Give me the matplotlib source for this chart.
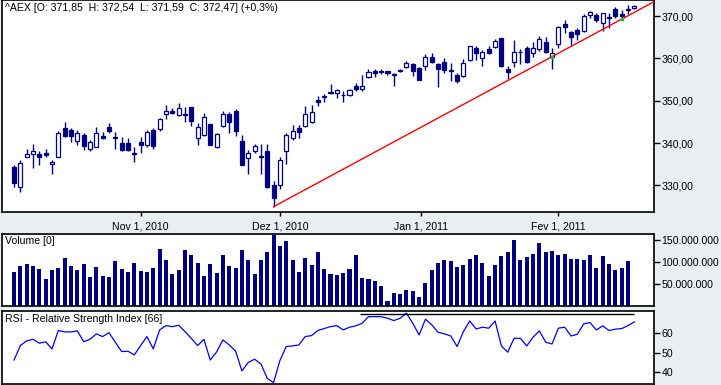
import numpy as np
import pandas as pd
import matplotlib
matplotlib.use("Agg")
import matplotlib.pyplot as plt
from matplotlib.ticker import FuncFormatter

# trading days shown (Oct 4, 2010 .. Feb 17, 2011)
dates = pd.bdate_range("2010-10-04", "2011-02-17")

opens = [334.4, 329.7, 336.8, 337.5, 337.5, 337.6, 335.0, 336.8, 343.5, 343.1,
         340.4, 341.9, 338.5, 339.1, 341.7, 343.7, 341.5, 339.9, 339.9, 337.5,
         340.2, 339.5, 343.1, 343.2, 346.8, 347.6, 346.7, 346.9, 348.4, 341.1,
         341.9, 344.5, 339.1, 344.1, 346.8, 347.6, 340.5, 336.4, 338.0, 337.0,
         338.1, 330.0, 330.0, 338.2, 341.3, 343.6, 344.1, 345.0, 350.2, 351.2,
         352.1, 351.8, 351.3, 351.3, 353.5, 352.7, 355.7, 356.9, 357.1, 356.9,
         356.3, 357.3, 358.0, 358.6, 357.8, 358.3, 360.2, 358.6, 359.1, 357.3,
         356.1, 355.8, 359.6, 362.4, 360.0, 362.1, 362.6, 364.7, 357.6, 359.1,
         361.4, 362.4, 361.2, 362.3, 363.9, 360.4, 363.3, 368.1, 366.2, 366.7,
         366.5, 370.2, 370.2, 368.3, 369.8, 371.6, 370.5, 371.75, 371.85]
highs = [334.8, 336.0, 338.7, 339.8, 338.0, 338.7, 336.1, 342.8, 345.0, 343.5,
         343.1, 342.3, 340.7, 343.9, 342.7, 344.8, 342.7, 341.5, 341.1, 339.1,
         341.5, 343.1, 343.5, 345.8, 349.0, 348.2, 349.4, 348.6, 348.6, 344.8,
         347.0, 344.6, 342.4, 347.6, 347.4, 348.1, 341.9, 338.4, 339.8, 339.7,
         339.7, 331.0, 336.6, 342.3, 344.3, 344.3, 348.7, 349.0, 351.0, 351.6,
         353.9, 352.7, 352.4, 352.7, 354.1, 356.1, 357.4, 357.6, 357.5, 357.1,
         356.6, 357.6, 359.4, 358.8, 358.0, 361.0, 361.3, 358.8, 360.1, 358.8,
         356.5, 359.8, 362.9, 362.8, 362.0, 362.9, 364.5, 364.9, 358.2, 364.3,
         362.1, 362.9, 363.8, 365.3, 365.1, 362.4, 367.6, 369.1, 366.5, 367.1,
         370.4, 371.1, 370.6, 370.8, 370.8, 372.2, 371.4, 372.6, 372.54]
lows = [329.7, 328.5, 336.6, 334.0, 334.7, 336.8, 332.6, 336.7, 341.5, 340.2,
        339.5, 338.4, 338.0, 339.1, 340.9, 342.4, 338.7, 338.1, 338.0, 335.6,
        337.7, 339.1, 338.7, 342.9, 345.6, 346.8, 346.4, 345.0, 344.0, 339.5,
        341.7, 339.5, 338.9, 343.9, 342.4, 341.7, 334.8, 332.7, 337.6, 332.7,
        329.4, 325.0, 329.1, 335.0, 340.7, 341.1, 343.9, 344.8, 348.8, 349.8,
        351.5, 350.6, 349.8, 351.1, 352.4, 352.4, 355.4, 355.7, 356.3, 356.1,
        353.5, 356.7, 357.8, 355.8, 354.9, 357.3, 358.8, 353.2, 356.6, 354.7,
        354.1, 355.7, 359.4, 359.5, 358.3, 361.0, 362.4, 358.0, 355.1, 358.0,
        358.6, 358.8, 360.4, 361.7, 361.3, 357.6, 362.4, 365.9, 363.2, 364.3,
        366.3, 369.5, 368.7, 366.5, 367.1, 369.5, 369.5, 370.5, 371.59]
closes = [330.5, 335.2, 337.4, 338.1, 336.8, 337.2, 335.5, 342.3, 341.7, 341.7,
          342.3, 339.4, 340.2, 342.3, 341.2, 342.9, 341.1, 338.3, 338.4, 337.7,
          339.6, 342.5, 339.4, 345.6, 347.5, 347.2, 348.2, 346.5, 345.3, 343.7,
          346.1, 339.6, 342.1, 346.8, 345.0, 342.9, 334.9, 337.6, 339.3, 336.6,
          329.5, 327.1, 336.1, 341.9, 342.8, 342.7, 346.9, 347.3, 349.8, 350.8,
          351.7, 352.5, 351.4, 352.5, 352.7, 353.5, 356.7, 356.5, 356.7, 356.5,
          356.0, 356.9, 358.8, 357.0, 355.0, 360.2, 359.1, 357.6, 357.3, 356.9,
          354.7, 358.8, 362.8, 361.2, 361.6, 361.3, 364.1, 358.3, 356.7, 361.4,
          361.6, 359.1, 362.4, 364.5, 361.4, 361.2, 367.3, 367.5, 365.1, 365.7,
          370.0, 371.0, 369.1, 370.6, 369.5, 370.1, 370.1, 371.35, 372.47]

# volume in millions
volume = [76.3, 91.3, 95.8, 89.8, 84.5, 60.5, 80.8, 86.8, 109.4, 91.3,
          80.8, 95.8, 66.5, 89.0, 68.7, 66.5, 102.6, 84.5, 77.8, 98.1,
          80.0, 77.8, 86.8, 129.7, 104.8, 73.2, 82.3, 127.4, 116.1, 98.1,
          68.7, 95.8, 75.5, 116.1, 91.3, 86.8, 127.4, 103.3, 73.2, 104.8,
          122.9, 161.3, 136.4, 147.7, 103.3, 77.8, 109.4, 93.6, 122.9, 84.5,
          73.2, 71.0, 75.5, 84.5, 116.1, 62.0, 60.5, 55.2, 43.9, 10.0,
          28.1, 25.8, 34.9, 32.6, 19.1, 50.7, 82.3, 98.1, 104.8, 102.6,
          89.0, 93.6, 107.1, 116.1, 98.1, 68.7, 93.6, 113.9, 122.9, 150.0,
          104.8, 111.6, 118.4, 144.0, 122.9, 125.2, 116.1, 118.4, 107.1, 107.1,
          104.8, 116.1, 86.8, 113.9, 95.8, 82.3, 86.8, 102.6, 0.0]

rsi = [46.3, 53.7, 56.1, 56.9, 54.9, 55.6, 52.0, 61.4, 60.7, 60.7,
       61.2, 55.7, 56.9, 59.7, 58.3, 60.3, 55.4, 50.6, 50.8, 48.9,
       53.7, 58.3, 52.0, 61.7, 63.9, 63.4, 64.1, 60.9, 57.4, 53.7,
       56.9, 46.3, 50.4, 56.6, 54.0, 50.9, 40.7, 45.0, 46.7, 44.3,
       36.9, 34.7, 46.0, 53.2, 53.5, 54.0, 58.3, 58.8, 61.4, 62.4,
       63.4, 63.9, 61.7, 63.1, 63.8, 65.1, 68.5, 68.5, 68.5, 67.7,
       66.5, 67.7, 70.3, 65.1, 59.1, 67.2, 64.3, 60.5, 59.7, 58.6,
       53.2, 60.9, 66.3, 62.2, 63.1, 62.6, 66.3, 53.5, 50.3, 57.4,
       57.4, 53.5, 58.0, 61.2, 55.4, 54.5, 62.6, 63.1, 58.6, 59.5,
       64.8, 65.5, 61.7, 63.8, 61.4, 62.1, 62.4, 63.9, 65.8]

# trend line anchors (index, price)
trend_x = [41, 85]
trend_y = [324.96, 360.4]

month_ticks = ["2010-11-01", "2010-12-01", "2011-01-01", "2011-02-01"]
month_labels = ["Nov 1, 2010", "Dez 1, 2010", "Jan 1, 2011", "Fev 1, 2011"]

navy = "#000080"
bg = "#e9eef1"
fs = 7.6
plt.rcParams["font.family"] = ["Liberation Sans", "DejaVu Sans"]
plt.rcParams["font.size"] = fs

fig = plt.figure(figsize=(7.21, 3.85), dpi=100, facecolor=bg)
ax = fig.add_axes([0.0028, 0.4506, 0.9042, 0.5494])
axv = fig.add_axes([0.0028, 0.2060, 0.9042, 0.1875])
axr = fig.add_axes([0.0028, 0.0026, 0.9042, 0.1896])

x = np.arange(len(opens))
o = np.array(opens); c = np.array(closes)
h = np.array(highs); l = np.array(lows)
up = c >= o

ax.vlines(x, l, h, color=navy, lw=1.0, zorder=2)
ax.bar(x, np.maximum(np.abs(c - o), 0.05), bottom=np.minimum(o, c), width=0.64,
       color=np.where(up, "white", navy), edgecolor=navy, lw=0.9, zorder=3)

# trend line, extended to the right edge
xmin, xmax = -1.9, 101.1
slope = (trend_y[1] - trend_y[0]) / (trend_x[1] - trend_x[0])
tx = np.array([trend_x[0], xmax])
ax.plot(tx, trend_y[0] + slope * (tx - trend_x[0]), color="red", lw=1, zorder=4)
ax.plot([85, 96], [trend_y[0] + slope * (85 - 41), trend_y[0] + slope * (96 - 41)],
        "s", color="#22bb22", ms=1.5, zorder=5)

ax.set_xlim(xmin, xmax)
ax.set_ylim(323.82, 373.78)
ax.set_yticks([330, 340, 350, 360, 370])
ax.yaxis.set_major_formatter(FuncFormatter(lambda v, p: f"{v:.2f}".replace(".", ",")))

# month ticks interpolated on trading-day index
day_num = dates.values.astype("datetime64[D]").astype(float)
tick_num = pd.to_datetime(month_ticks).values.astype("datetime64[D]").astype(float)
ax.set_xticks(np.interp(tick_num, day_num, x))
ax.set_xticklabels(month_labels)

ax.text(0.004, 0.985, "^AEX [O: 371,85  H: 372,54  L: 371,59  C: 372,47] (+0,3%)",
        transform=ax.transAxes, va="top", ha="left")

axv.bar(np.arange(len(volume)), np.array(volume) * 1e6, width=0.64, color=navy)
axv.set_xlim(xmin, xmax)
axv.set_ylim(0, 164.6e6)
axv.set_yticks([50e6, 100e6, 150e6])
axv.yaxis.set_major_formatter(FuncFormatter(lambda v, p: f"{int(v):,}".replace(",", ".")))
axv.set_xticks([])
axv.text(0.004, 0.96, "Volume [0]", transform=axv.transAxes, va="top", ha="left")

axr.plot(np.arange(len(rsi)), rsi, color="#0000ff", lw=0.9)
axr.hlines(70, 54.7, len(rsi) - 1, color="black", lw=1)
axr.set_xlim(xmin, xmax)
axr.set_ylim(34.0, 71.4)
axr.set_yticks([40, 50, 60])
axr.set_xticks([])
axr.text(0.004, 0.96, "RSI - Relative Strength Index [66]", transform=axr.transAxes,
         va="top", ha="left")

for a in (ax, axv, axr):
    a.set_facecolor("white")
    a.yaxis.tick_right()
    a.tick_params(axis="y", direction="out", length=4, width=1, pad=1.5, labelsize=fs)
    a.tick_params(axis="x", direction="out", length=3, width=1, pad=4, labelsize=fs)
    for s in a.spines.values():
        s.set_linewidth(1.2)

fig.savefig("out.png", dpi=100, facecolor=bg)
